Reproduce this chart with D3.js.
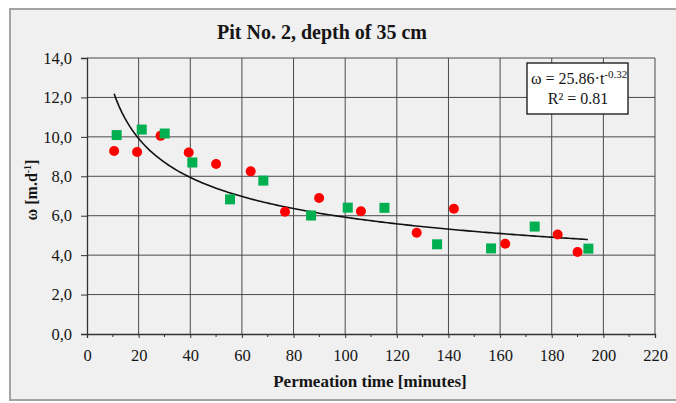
<!DOCTYPE html>
<html>
<head>
<meta charset="utf-8">
<script src="https://cdn.jsdelivr.net/npm/d3@7/dist/d3.min.js"></script>
<style>
  html, body { margin: 0; padding: 0; background: #ffffff; }
  svg { display: block; }
  svg text { font-family: "Liberation Serif", "DejaVu Serif", serif !important; fill: #151515; }
</style>
</head>
<body>
<svg id="chart" width="676" height="403"></svg>
<script>
// ---- Data ----
const seriesRedT = [10.5, 19.4, 28.5, 39.4, 50.0, 63.4, 76.7, 89.9, 106.1, 127.7, 142.1, 162.0, 182.3, 190.0];
const seriesRedV = [9.28, 9.23, 10.05, 9.21, 8.62, 8.25, 6.2, 6.9, 6.23, 5.14, 6.35, 4.58, 5.05, 4.16];
const seriesGreenT = [11.5, 21.2, 30.1, 40.8, 55.4, 68.3, 86.8, 101.0, 115.2, 135.6, 156.5, 173.4, 194.2];
const seriesGreenV = [10.09, 10.37, 10.17, 8.70, 6.83, 7.78, 6.01, 6.41, 6.40, 4.55, 4.34, 5.45, 4.33];
// Trend line (power fit printed on the chart): omega = a * t^b
const trendCoef = [25.86, -0.32];
const trendRange = [10.5, 194];
const xTicks = [0, 20, 40, 60, 80, 100, 120, 140, 160, 180, 200, 220];
const xMinorTicks = [10, 30, 50, 70, 90, 110, 130, 150, 170, 190, 210];
const yTicks = [0, 2, 4, 6, 8, 10, 12, 14];
const yTickLabels = ["0,0", "2,0", "4,0", "6,0", "8,0", "10,0", "12,0", "14,0"];
const titleText = "Pit No. 2, depth of 35 cm";
const xTitle = "Permeation time [minutes]";

// ---- Drawing ----
const svg = d3.select("#chart");
const SERIF = "'Liberation Serif', 'DejaVu Serif', serif";

// outer frame
svg.append("rect")
  .attr("x", 10).attr("y", 9).attr("width", 720).attr("height", 391)
  .attr("fill", "#f0f0f0").attr("stroke", "#a3a3a3").attr("stroke-width", 2);

const x = d3.scaleLinear().domain([0, 220]).range([87, 655]);
const y = d3.scaleLinear().domain([0, 14]).range([334, 58]);

// gridlines
const grid = svg.append("g");
grid.selectAll("line.v").data(xTicks.filter(d => d > 0)).enter().append("line")
  .attr("x1", d => x(d)).attr("x2", d => x(d))
  .attr("y1", y(0)).attr("y2", y(14))
  .attr("stroke", "#4a4a4a").attr("stroke-width", 1);
grid.selectAll("line.h").data(yTicks.filter(d => d > 0)).enter().append("line")
  .attr("x1", x(0)).attr("x2", x(220))
  .attr("y1", d => y(d)).attr("y2", d => y(d))
  .attr("stroke", "#4a4a4a").attr("stroke-width", 1);

// x axis
const xAxis = d3.axisBottom(x).tickValues(xTicks).tickSize(4).tickPadding(11).tickFormat(d3.format("d"));
const gx = svg.append("g").attr("transform", `translate(0,${y(0)})`).call(xAxis)
  .attr("font-family", SERIF);
gx.select(".domain").attr("stroke", "#333").attr("stroke-width", 1.3);
gx.selectAll(".tick line").attr("stroke", "#333");
gx.selectAll("text").attr("font-size", 16.5).style("font-family", SERIF).attr("fill", "#222");
gx.selectAll("line.minor").data(xMinorTicks).enter().append("line").attr("class", "minor")
  .attr("x1", d => x(d)).attr("x2", d => x(d)).attr("y1", 0).attr("y2", 3)
  .attr("stroke", "#333");

// y axis
const yAxis = d3.axisLeft(y).tickValues(yTicks).tickSize(6).tickPadding(9)
  .tickFormat((d, i) => yTickLabels[i]);
const gy = svg.append("g").attr("transform", `translate(${x(0)},0)`).call(yAxis)
  .attr("font-family", SERIF);
gy.select(".domain").attr("stroke", "#333").attr("stroke-width", 1.3);
gy.selectAll(".tick line").attr("stroke", "#333");
gy.selectAll("text").attr("font-size", 16.5).style("font-family", SERIF).attr("fill", "#222");

// trend line
const trendPts = d3.range(trendRange[0], trendRange[1] + 0.01, 1).concat([trendRange[1]])
  .map(t => [t, trendCoef[0] * Math.pow(t, trendCoef[1])]);
svg.append("path")
  .datum(trendPts)
  .attr("fill", "none").attr("stroke", "#111").attr("stroke-width", 1.6)
  .attr("d", d3.line().x(d => x(d[0])).y(d => y(d[1])));

// red circles
svg.append("g").selectAll("circle").data(seriesRedT).enter().append("circle")
  .attr("cx", d => x(d)).attr("cy", (d, i) => y(seriesRedV[i])).attr("r", 5)
  .attr("fill", "#ff0000");

// green squares
svg.append("g").selectAll("rect").data(seriesGreenT).enter().append("rect")
  .attr("x", d => x(d) - 5).attr("y", (d, i) => y(seriesGreenV[i]) - 5)
  .attr("width", 10).attr("height", 10)
  .attr("fill", "#00b050");

// equation box
const box = svg.append("g");
box.append("rect").attr("x", 527).attr("y", 63).attr("width", 101).attr("height", 51)
  .attr("fill", "#ffffff").attr("stroke", "#111").attr("stroke-width", 1.3);
const eq = box.append("text").attr("x", 531).attr("y", 84).attr("font-size", 16).style("font-family", SERIF);
eq.append("tspan").text("ω = 25.86·t");
eq.append("tspan").attr("dy", -6).attr("font-size", 11).text(String(trendCoef[1]));
box.append("text").attr("x", 578).attr("y", 104).attr("font-size", 16).style("font-family", SERIF)
  .attr("text-anchor", "middle").text("R² = 0.81");

// titles
svg.append("text").attr("x", 322).attr("y", 39).attr("text-anchor", "middle").style("font-family", SERIF)
  .attr("font-size", 20).attr("font-weight", "bold").text(titleText);
svg.append("text").attr("x", 370).attr("y", 387).attr("text-anchor", "middle").style("font-family", SERIF)
  .attr("font-size", 17).attr("font-weight", "bold").text(xTitle);
const yt = svg.append("text").attr("transform", "translate(37,190) rotate(-90)").style("font-family", SERIF)
  .attr("text-anchor", "middle").attr("font-size", 16).attr("font-weight", "bold");
yt.append("tspan").text("ω [m.d");
yt.append("tspan").attr("dy", -6).attr("font-size", 10).text("-1");
yt.append("tspan").attr("dy", 6).text("]");
</script>
</body>
</html>
